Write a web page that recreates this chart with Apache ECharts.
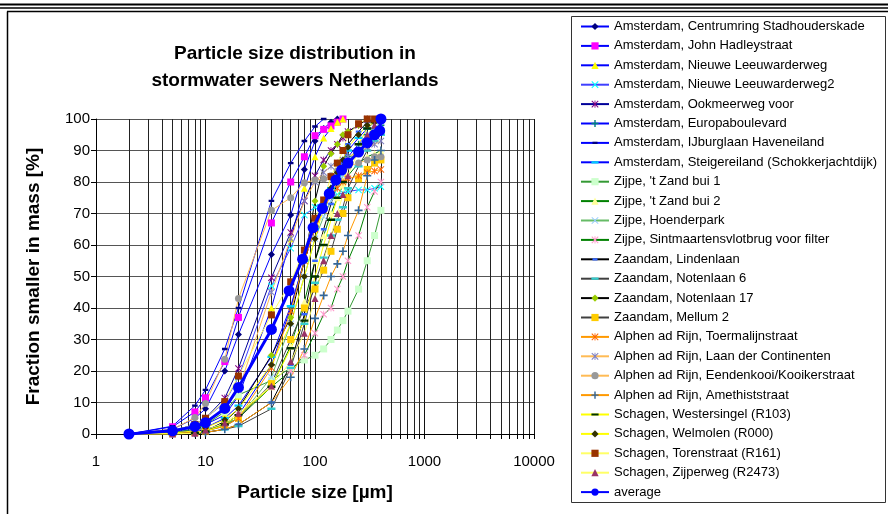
<!DOCTYPE html>
<html><head><meta charset="utf-8">
<script src="https://cdn.jsdelivr.net/npm/echarts@6/dist/echarts.min.js"></script>
<style>html,body{margin:0;padding:0;background:#fff}#c{width:888px;height:514px}</style>
</head><body><div id="c"></div>
<script>
// ---- data ----
const sizes = [2,5,8,10,15,20,40,60,80,100,120,140,160,180,200,250,300,350,400];
const avgSizes = [2,5,8,10,15,20,40,58,77,96,117,135,155,175,200,250,300,350,390,400];

const seriesNames = [
  "Amsterdam, Centrumring Stadhouderskade",
  "Amsterdam, John Hadleystraat",
  "Amsterdam, Nieuwe Leeuwarderweg",
  "Amsterdam, Nieuwe Leeuwarderweg2",
  "Amsterdam, Ookmeerweg voor",
  "Amsterdam, Europaboulevard",
  "Amsterdam, IJburglaan Haveneiland",
  "Amsterdam, Steigereiland (Schokkerjachtdijk)",
  "Zijpe, 't Zand bui 1",
  "Zijpe, 't Zand bui 2",
  "Zijpe, Hoenderpark",
  "Zijpe, Sintmaartensvlotbrug voor filter",
  "Zaandam, Lindenlaan",
  "Zaandam, Notenlaan 6",
  "Zaandam, Notenlaan 17",
  "Zaandam, Mellum 2",
  "Alphen ad Rijn, Toermalijnstraat",
  "Alphen ad Rijn, Laan der Continenten",
  "Alphen ad Rijn, Eendenkooi/Kooikerstraat",
  "Alphen ad Rijn, Amethiststraat",
  "Schagen, Westersingel (R103)",
  "Schagen, Welmolen (R000)",
  "Schagen, Torenstraat (R161)",
  "Schagen, Zijperweg (R2473)",
  "average"
];

const centrumring   = [0,1.5,5,8,20,31.6,57,69.5,84,93,97,99,100,null,null,null,null,null,null];
const johnHadley    = [0,2.3,7,11.5,23,37,67,80,88,94.7,96.7,97.8,99,100,null,null,null,null,null];
const nieuweLw      = [0,1,2,3,6,12,40,62,78,88,94,97,99,100,null,null,null,null,null];
const nieuweLw2     = [0,1,3,5,10,18,47,59,69.5,72,74,75.5,76,76.5,77,77.5,77.5,78,78.5];
const ookmeerweg    = [0,1,3,5,11.4,20.8,49.6,64,74,82,87,90,92,94,96,98,100,null,null];
const europaboul    = [0,0.5,1,1.5,3,6,22,40,55,66,73,78,81,84,88,92,95,97,98];
const ijburglaan    = [0,2.5,9,14,27,40,74,86,93,97.6,100,null,null,null,null,null,null,null,null];
const steigereiland = [0,0.5,1.5,2,5,9,24.5,40.6,55,65,72,78,82,86,90,94,97,99,100];
const zandBui1      = [0,0.5,1.5,3,7,12.4,17,21,23.5,25,27,30,33,36,39,46,55,63,71];
const zandBui2      = [0,0.2,0.5,1,3,5,15,28,42,55,63,70,75,79,82,86,88,89,90];
const hoenderpark   = [0,0.2,0.5,1,3,5,18,35,50,62,69,74,78,82,87,91,95,97,98];
const sintmaartens  = [0,0.2,0.5,1,3,6,15,20,25,32,38,40,46,50,55,63,72,77,80];
const lindenlaan    = [0,0,0.2,0.5,1.5,3,10,22,38,55,65,73,80,86,92,96,99,100,null];
const notenlaan6    = [0,0,0.2,0.5,1.5,2.5,8,21,35,48,56,63,68,72,78,85,90,93,95];
const notenlaan17   = [0,0.2,0.6,1,4,8,25,37,55,74,85,89,92,95,96,98,100,null,null];
const mellum2       = [0,0.2,0.5,1,2.5,5,16,30,40,46,52,58,65,70,75,81,84,86,87];
const toermalijn    = [0,0.2,0.5,1,2.5,5,21,39,55,65,71,76,78,80,81,82,83,83.5,84];
const laanContinent = [0,1,2.5,4,8,14,45,62,74,80,83,85,86,87,88,89.5,91,92,93];
const eendenkooi    = [0,1.5,5.2,9.7,23.7,43,71,75,79.8,80.6,81,82,83.5,84,85,86,87,88,88];
const amethist      = [0,0,0.2,0.5,1.5,3,10,18,27,36.7,44,50,54,58,63,71,82,87,90];
const westersingel  = [0,0,0.3,0.8,3,6,15,27.2,36,50,60,68,75,80,85,92,97,99,100];
const welmolen      = [0,0.3,1,2,4.5,8,22,35,50,62,72,78,83,87,91,95,98,99,100];
const torenstraat   = [0,1,3,5,10.3,18.4,37.8,48.3,58.4,68.5,74.3,81.7,86,90,95,98.5,100,100,null];
const zijperweg     = [0,0,0.2,1.3,3.5,6.6,15.2,23,32,43,55,63,70,76,82,90,95,98,100];
const average       = [0,1,2.4,3.6,8.1,14.8,33.2,45.5,55.5,65.5,71.6,76.3,80.6,83.8,86,89.5,92.5,95,96.3,100];

const xTicks = [1,10,100,1000,10000];

// ---- styles ----
const SYM = {
  x: 'path://M0,1L1,0L5,4L9,0L10,1L6,5L10,9L9,10L5,6L1,10L0,9L4,5Z',
  plus: 'path://M4,0H6V4H10V6H6V10H4V6H0V4H4Z',
  star: 'path://M0,1L1,0L5,4L9,0L10,1L6,5L10,9L9,10L5,6L1,10L0,9L4,5Z M4.4,0H5.6V10H4.4Z',
  // short bar centred in a 10x10 box (zero-area end points fix the box)
  dashS: 'path://M0,0L0.01,0 M1.5,3.5H8.5V6.5H1.5Z M10,10L9.99,10',
  dashL: 'path://M0,0L0.01,0 M0,3.5H10V6.5H0Z M10,10L9.99,10'
};
const styles = [
  {line:'#0000ff', sym:'diamond', col:'#000080', size:7},
  {line:'#0000ff', sym:'rect', col:'#ff00ff', size:7},
  {line:'#0000ff', sym:'triangle', col:'#ffff00', size:7},
  {line:'#4040ff', sym:SYM.x, col:'#00ffff', size:7},
  {line:'#000099', sym:SYM.star, col:'#800080', size:7},
  {line:'#0000ff', sym:SYM.plus, col:'#008080', size:7},
  {line:'#0000ff', sym:SYM.dashS, col:'#000080', size:8},
  {line:'#0000ff', sym:SYM.dashL, col:'#00ccff', size:8},
  {line:'#339933', sym:'rect', col:'#ccffcc', size:7},
  {line:'#008000', sym:'triangle', col:'#ffff99', size:7},
  {line:'#66bb66', sym:SYM.x, col:'#99ccff', size:7},
  {line:'#008000', sym:SYM.star, col:'#ff99cc', size:7},
  {line:'#000000', sym:SYM.dashS, col:'#3366ff', size:8},
  {line:'#404040', sym:SYM.dashL, col:'#33cccc', size:8},
  {line:'#000000', sym:'diamond', col:'#99cc00', size:7},
  {line:'#404040', sym:'rect', col:'#ffcc00', size:7},
  {line:'#ff9900', sym:SYM.star, col:'#ff6600', size:7},
  {line:'#ffbb55', sym:SYM.star, col:'#8080c0', size:7},
  {line:'#ffbb55', sym:'circle', col:'#999999', size:7},
  {line:'#ff9900', sym:SYM.plus, col:'#336699', size:8},
  {line:'#ffff00', sym:SYM.dashL, col:'#003300', size:8},
  {line:'#ffff00', sym:'diamond', col:'#333300', size:7},
  {line:'#ffff66', sym:'rect', col:'#993300', size:7},
  {line:'#ffff66', sym:'triangle', col:'#993366', size:7},
  {line:'#0000ff', sym:'circle', col:'#0000ff', size:11, width:3}
];

const valueArrays = [centrumring, johnHadley, nieuweLw, nieuweLw2, ookmeerweg, europaboul,
  ijburglaan, steigereiland, zandBui1, zandBui2, hoenderpark, sintmaartens, lindenlaan,
  notenlaan6, notenlaan17, mellum2, toermalijn, laanContinent, eendenkooi, amethist,
  westersingel, welmolen, torenstraat, zijperweg, average];

const FONT = "'Liberation Sans', Arial, sans-serif";

const series = valueArrays.map((vals, i) => {
  const xs = (i === valueArrays.length - 1) ? avgSizes : sizes;
  const st = styles[i];
  const data = xs.map((s, k) => [s, vals[k]]).filter(p => p[1] != null);
  return {
    name: seriesNames[i],
    type: 'line',
    data: data,
    symbol: st.sym,
    symbolSize: st.size,
    showSymbol: true,
    animation: false,
    lineStyle: {color: st.line, width: st.width || 1},
    itemStyle: {color: st.col, borderWidth: 0},
    emphasis: {disabled: true},
    z: 2 + (i === valueArrays.length - 1 ? 1 : 0)
  };
});

const chart = echarts.init(document.getElementById('c'), null, {renderer: 'canvas'});
chart.setOption({
  animation: false,
  backgroundColor: '#fff',
  textStyle: {fontFamily: FONT},
  title: {
    text: 'Particle size distribution in\nstormwater sewers Netherlands',
    left: 290, top: 35, textAlign: 'center',
    textStyle: {fontFamily: FONT, fontSize: 19, fontWeight: 'bold', color: '#000', lineHeight: 27}
  },
  grid: {left: 96, right: 354, top: 119, bottom: 80, containLabel: false},
  xAxis: {
    type: 'log', logBase: 10, min: xTicks[0], max: xTicks[xTicks.length - 1],
    name: 'Particle size [µm]', nameLocation: 'middle', nameGap: 49,
    nameTextStyle: {fontFamily: FONT, fontSize: 19, fontWeight: 'bold', color: '#000'},
    axisLine: {show: true, onZero: false, lineStyle: {color: '#000', width: 1}},
    axisTick: {show: true, inside: false, length: 5, lineStyle: {color: '#000'}},
    minorTick: {show: true, splitNumber: 9, length: 5, lineStyle: {color: '#000'}},
    axisLabel: {fontFamily: FONT, fontSize: 15, color: '#000', margin: 20, formatter: v => String(v)},
    splitLine: {show: true, lineStyle: {color: '#111', width: 1}},
    minorSplitLine: {show: true, lineStyle: {color: '#222', width: 1}}
  },
  yAxis: {
    type: 'value', min: 0, max: 100, interval: 10,
    name: 'Fraction smaller in mass [%]', nameLocation: 'middle', nameGap: 53, nameRotate: 90,
    nameTextStyle: {fontFamily: FONT, fontSize: 19, fontWeight: 'bold', color: '#000'},
    axisLine: {show: true, lineStyle: {color: '#000', width: 1}},
    axisTick: {show: true, inside: false, length: 5, lineStyle: {color: '#000'}},
    axisLabel: {fontFamily: FONT, fontSize: 15, color: '#000', margin: 6},
    splitLine: {show: true, lineStyle: {color: '#555', width: 1}}
  },
  legend: {
    orient: 'vertical', left: 575, top: 15,
    itemWidth: 28, itemHeight: 9, itemGap: 6.4,
    textStyle: {fontFamily: FONT, fontSize: 13, color: '#000', padding: [0,0,0,0]},
    selectedMode: false,
    data: seriesNames
  },
  graphic: [
    {type: 'rect', shape: {x: 0, y: 3.5, width: 888, height: 2}, style: {fill: '#000'}, silent: true},
    {type: 'line', shape: {x1: 0, y1: 8, x2: 888, y2: 8}, style: {stroke: '#000', lineWidth: 1.5}, silent: true},
    {type: 'line', shape: {x1: 7, y1: 11.5, x2: 888, y2: 11.5}, style: {stroke: '#000', lineWidth: 1.5}, silent: true},
    {type: 'line', shape: {x1: 7.5, y1: 11.5, x2: 7.5, y2: 514}, style: {stroke: '#000', lineWidth: 1.5}, silent: true},
    {type: 'rect', shape: {x: 571.5, y: 16.5, width: 314, height: 486}, style: {fill: 'none', stroke: '#333', lineWidth: 1}, silent: true}
  ],
  series: series
});
</script>
</body></html>
